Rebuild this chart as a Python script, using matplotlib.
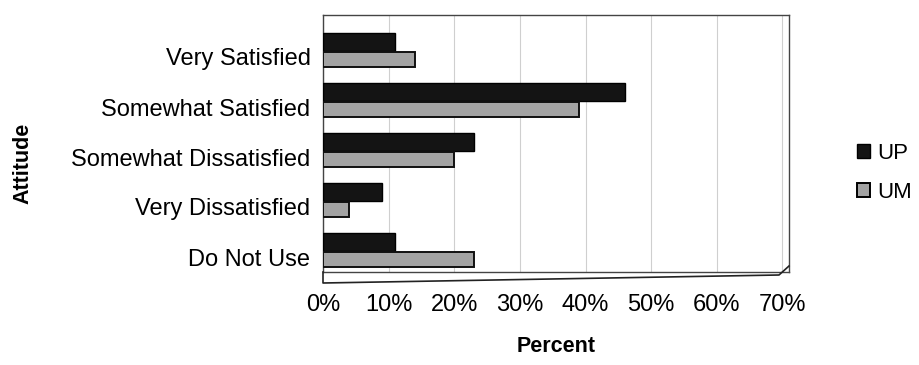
import numpy as np
import matplotlib

matplotlib.use("Agg")
import matplotlib.pyplot as plt
from matplotlib.patches import Patch
from matplotlib.lines import Line2D

plt.rcParams.update({
    "font.family": ["Liberation Sans", "DejaVu Sans"],
    "font.size": 17,
})

attitudes = ["Very Satisfied", "Somewhat Satisfied", "Somewhat Dissatisfied",
             "Very Dissatisfied", "Do Not Use"]
up_pct = [11, 46, 23, 9, 11]
um_pct = [14, 39, 20, 4, 23]
x_ticks = [0, 10, 20, 30, 40, 50, 60, 70]
x_tick_labels = [f"{t}%" for t in x_ticks]

UP_COLOR = "#141414"
UM_COLOR = "#a3a3a3"

W, H = 920, 365
fig = plt.figure(figsize=(W / 100, H / 100), dpi=100)
fig.patch.set_facecolor("white")
ax = fig.add_axes([323 / W, 1 - 272 / H, (789 - 323) / W, (272 - 15) / H])

pos = np.arange(len(attitudes))
ax.barh(pos - 0.30, up_pct, height=0.36, color=UP_COLOR, edgecolor="black",
        linewidth=1.0, zorder=3)
ax.barh(pos + 0.04, um_pct, height=0.30, color=UM_COLOR, edgecolor="#111111",
        linewidth=1.4, zorder=4)

ax.set_xlim(0, 71)
ax.set_ylim(4.3, -0.84)
ax.set_xticks(x_ticks)
ax.set_xticklabels(x_tick_labels)
ax.set_yticks(pos)
ax.set_yticklabels(attitudes)
ax.tick_params(axis="both", length=0)
ax.tick_params(axis="y", pad=9)
ax.tick_params(axis="x", pad=16)

ax.grid(axis="x", color="#cfcfcf", linewidth=0.8, zorder=1)
ax.set_axisbelow(True)
for side in ax.spines.values():
    side.set_color("#444444")
    side.set_linewidth(1.0)

# front edge of the floor under the bars
def px(x, y):
    return x / W, 1 - y / H

floor_x, floor_y = zip(px(323, 272), px(323, 283), px(779, 275), px(789, 266))
fig.add_artist(Line2D(floor_x, floor_y, color="#222222", linewidth=1.2))

ax.set_xlabel("Percent", fontweight="bold", fontsize=15.5, labelpad=14)
fig.text(23 / W, 1 - 163 / H, "Attitude", rotation=90, ha="center", va="center",
         fontweight="bold", fontsize=15.5)

handles = [Patch(facecolor=UP_COLOR, edgecolor="black", label="UP"),
           Patch(facecolor=UM_COLOR, edgecolor="black", linewidth=1.4, label="UM")]
fig.legend(handles=handles, loc="upper left", bbox_to_anchor=(846 / W, 1 - 132 / H),
           frameon=False, handlelength=0.6, handleheight=0.6, handletextpad=0.3,
           labelspacing=0.8, borderpad=0, fontsize=16)

fig.savefig("out.png", dpi=100)
